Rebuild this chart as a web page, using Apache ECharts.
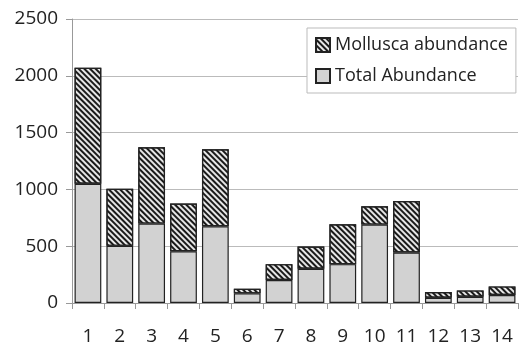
<!DOCTYPE html>
<html>
<head>
<meta charset="utf-8">
<script src="https://cdn.jsdelivr.net/npm/echarts@6/dist/echarts.min.js"></script>
<style>
  html, body { margin: 0; padding: 0; background: #fff; }
  #chart { width: 519px; height: 350px; }
</style>
</head>
<body>
<div id="chart"></div>
<script>
const sites = ['1', '2', '3', '4', '5', '6', '7', '8', '9', '10', '11', '12', '13', '14']
const totalAbundance = [1050, 503, 699, 456, 675, 85, 202, 301, 342, 690, 445, 46, 55, 70]
const molluscaAbundance = [1020, 503, 672, 419, 679, 40, 140, 196, 351, 161, 452, 50, 56, 76]

const chart = echarts.init(document.getElementById('chart'))

// diagonal hatching for the mollusca part
const hatch = {
  symbol: 'rect',
  dashArrayX: [1, 0],
  dashArrayY: [2, 2],
  rotation: Math.PI / 4,
  color: '#1a1a1a',
  symbolSize: 1
}

const labelFont = { fontFamily: 'Open Sans', fontSize: 19, color: '#222' }

const option = {
  animation: false,
  backgroundColor: '#fff',
  grid: { left: 72, right: 1, top: 19, bottom: 47 },
  legend: {
    data: ['Mollusca abundance', 'Total Abundance'],
    orient: 'vertical',
    left: 307,
    top: 28,
    padding: [8, 8, 8, 8],
    icon: 'rect',
    itemWidth: 14,
    itemHeight: 14,
    itemGap: 13,
    backgroundColor: '#fff',
    borderColor: '#bbb',
    borderWidth: 1,
    textStyle: { fontFamily: 'Open Sans', fontSize: 18, color: '#222' }
  },
  xAxis: {
    type: 'category',
    data: sites,
    axisLine: { lineStyle: { color: '#999' } },
    axisTick: { show: true, length: 6, lineStyle: { color: '#999' } },
    axisLabel: Object.assign({ margin: 24 }, labelFont)
  },
  yAxis: {
    type: 'value',
    min: 0,
    max: 2500,
    interval: 500,
    axisLine: { show: true, lineStyle: { color: '#999' } },
    axisTick: { show: true, length: 6, lineStyle: { color: '#999' } },
    axisLabel: Object.assign({ margin: 14, formatter: v => String(v) }, labelFont),
    splitLine: { lineStyle: { color: '#bbb' } }
  },
  series: [
    {
      name: 'Total Abundance',
      type: 'bar',
      stack: 'a',
      data: totalAbundance,
      barCategoryGap: '16%',
      itemStyle: { color: '#d2d2d2', borderColor: '#222', borderWidth: 1.2 }
    },
    {
      name: 'Mollusca abundance',
      type: 'bar',
      stack: 'a',
      data: molluscaAbundance,
      itemStyle: { color: '#e6e6e6', borderColor: '#222', borderWidth: 1.2, decal: hatch }
    }
  ]
}

chart.setOption(option)
</script>
</body>
</html>
